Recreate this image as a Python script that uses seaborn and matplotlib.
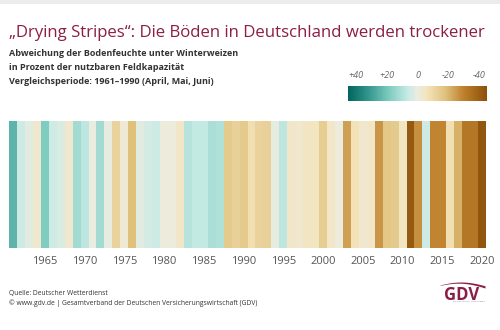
import numpy as np
import pandas as pd
import matplotlib
matplotlib.use("Agg")
import matplotlib.pyplot as plt
from matplotlib.colors import LinearSegmentedColormap
from matplotlib.patches import Rectangle
import seaborn as sns

# Soil-moisture anomaly under winter wheat (April-June), % of usable field capacity,
# relative to 1961-1990
years = list(range(1961, 2021))
anomaly = [
    24, 5, 2, -3, 18, 5, 3, -3, 12, 8,       # 1961-1970
    0, 12, 1, -12, -2, -18, 2, 4, 5, -1,     # 1971-1980
    -1, -4, 9, 7, 7, 11, 10, -15, -13, -15,  # 1981-1990
    -8, -12, -13, 1, 8, -4, -3, -5, -5, -14,  # 1991-2000
    -4, -1, -24, -7, -3, -4, -26, -16, -15, -5,  # 2001-2010
    -42, -27, 5, -29, -29, -8, -21, -33, -33, -43,  # 2011-2020
]
scale_ticks = [40, 20, 0, -20, -40]
scale_labels = ["+40", "+20", "0", "-20", "-40"]
year_ticks = [y for y in years if y % 5 == 0]

title = "\u201eDrying Stripes\u201c: Die Böden in Deutschland werden trockener"
subtitle = [
    "Abweichung der Bodenfeuchte unter Winterweizen",
    "in Prozent der nutzbaren Feldkapazität",
    "Vergleichsperiode: 1961\u20131990 (April, Mai, Juni)",
]
source = "Quelle: Deutscher Wetterdienst"
credit = "© www.gdv.de | Gesamtverband der Deutschen Versicherungswirtschaft (GDV)"

sns.set_theme(style="white")
plt.rcParams["font.family"] = ["Open Sans", "DejaVu Sans"]

VMIN, VMAX = -45, 45
cmap = LinearSegmentedColormap.from_list(
    "drying",
    [
        (0.00, "#8c510a"),
        (0.17, "#bf812d"),
        (0.30, "#dfc27d"),
        (0.43, "#f4e3ba"),
        (0.50, "#ecece0"),
        (0.57, "#c7eae5"),
        (0.70, "#80cdc1"),
        (0.85, "#35978f"),
        (1.00, "#01665e"),
    ],
)

W, H = 500, 330
fig = plt.figure(figsize=(W / 100, H / 100), dpi=100)
fig.patch.set_facecolor("white")


def fx(px):
    return px / W


def fy(py):
    return 1 - py / H


# light band along the top edge
fig.patches.append(Rectangle((0, fy(4)), 1, 4 / H, transform=fig.transFigure,
                             facecolor="#ececec", edgecolor="none", zorder=0))

# stripes
ax = fig.add_axes([fx(9), fy(248), fx(486) - fx(9), (248 - 121) / H])
cax = fig.add_axes([fx(348), fy(101), fx(487) - fx(348), 15 / H])
df = pd.DataFrame([anomaly], columns=years)
sns.heatmap(df, ax=ax, cmap=cmap, vmin=VMIN, vmax=VMAX, cbar=True, cbar_ax=cax,
            cbar_kws={"orientation": "horizontal"}, linewidths=0)
ax.set_yticks([])
ax.set_ylabel("")
ax.set_xlabel("")
ax.set_xticks([years.index(y) + 0.5 for y in year_ticks])
ax.set_xticklabels([str(y) for y in year_ticks], rotation=0, fontsize=8, color="#555555")
ax.tick_params(axis="x", length=0, pad=6)
for s in ax.spines.values():
    s.set_visible(False)

# colour scale: wet on the left, dry on the right
cax.set_xlim(VMAX, VMIN)
cax.xaxis.set_ticks_position("top")
cax.set_xticks(scale_ticks)
cax.set_xticklabels(scale_labels, fontsize=6.5, color="#666666", style="italic")
cax.tick_params(axis="x", direction="in", length=2.5, width=0.6, color="#ffffff",
                pad=4, top=True, bottom=False)
cax.set_yticks([])
for s in cax.spines.values():
    s.set_visible(False)

# headings
fig.text(fx(9), fy(33), title, fontsize=12.1, color="#8c1d47", va="center", ha="left")
for i, line in enumerate(subtitle):
    fig.text(fx(9), fy(54 + 13.5 * i), line, fontsize=6.5, fontweight="bold",
             color="#333333", va="center", ha="left")

# footer
fig.text(fx(9), fy(294), source, fontsize=4.85, color="#333333", va="center", ha="left")
fig.text(fx(9), fy(303.5), credit, fontsize=4.85, color="#333333", va="center", ha="left")

# logo
lax = fig.add_axes([0, 0, 1, 1], facecolor="none")
lax.set_xlim(0, W)
lax.set_ylim(H, 0)
lax.axis("off")
xs = np.linspace(440, 485, 60)
t = (xs - 440) / 45
top = 287.5 - 5.5 * np.sin(np.pi * (0.15 + 0.75 * t))
thick = 0.4 + 1.8 * t
lax.fill_between(xs, top, top + thick, color="#8c1d47", linewidth=0)
fig.text(fx(462), fy(295), "GDV", fontsize=12, fontweight="bold", color="#8c1d47",
         va="center", ha="center")
fig.text(fx(485), fy(301.5), "DIE DEUTSCHEN VERSICHERER", fontsize=1.6, color="#888888",
         va="center", ha="right")

fig.savefig("out.png", dpi=100)
